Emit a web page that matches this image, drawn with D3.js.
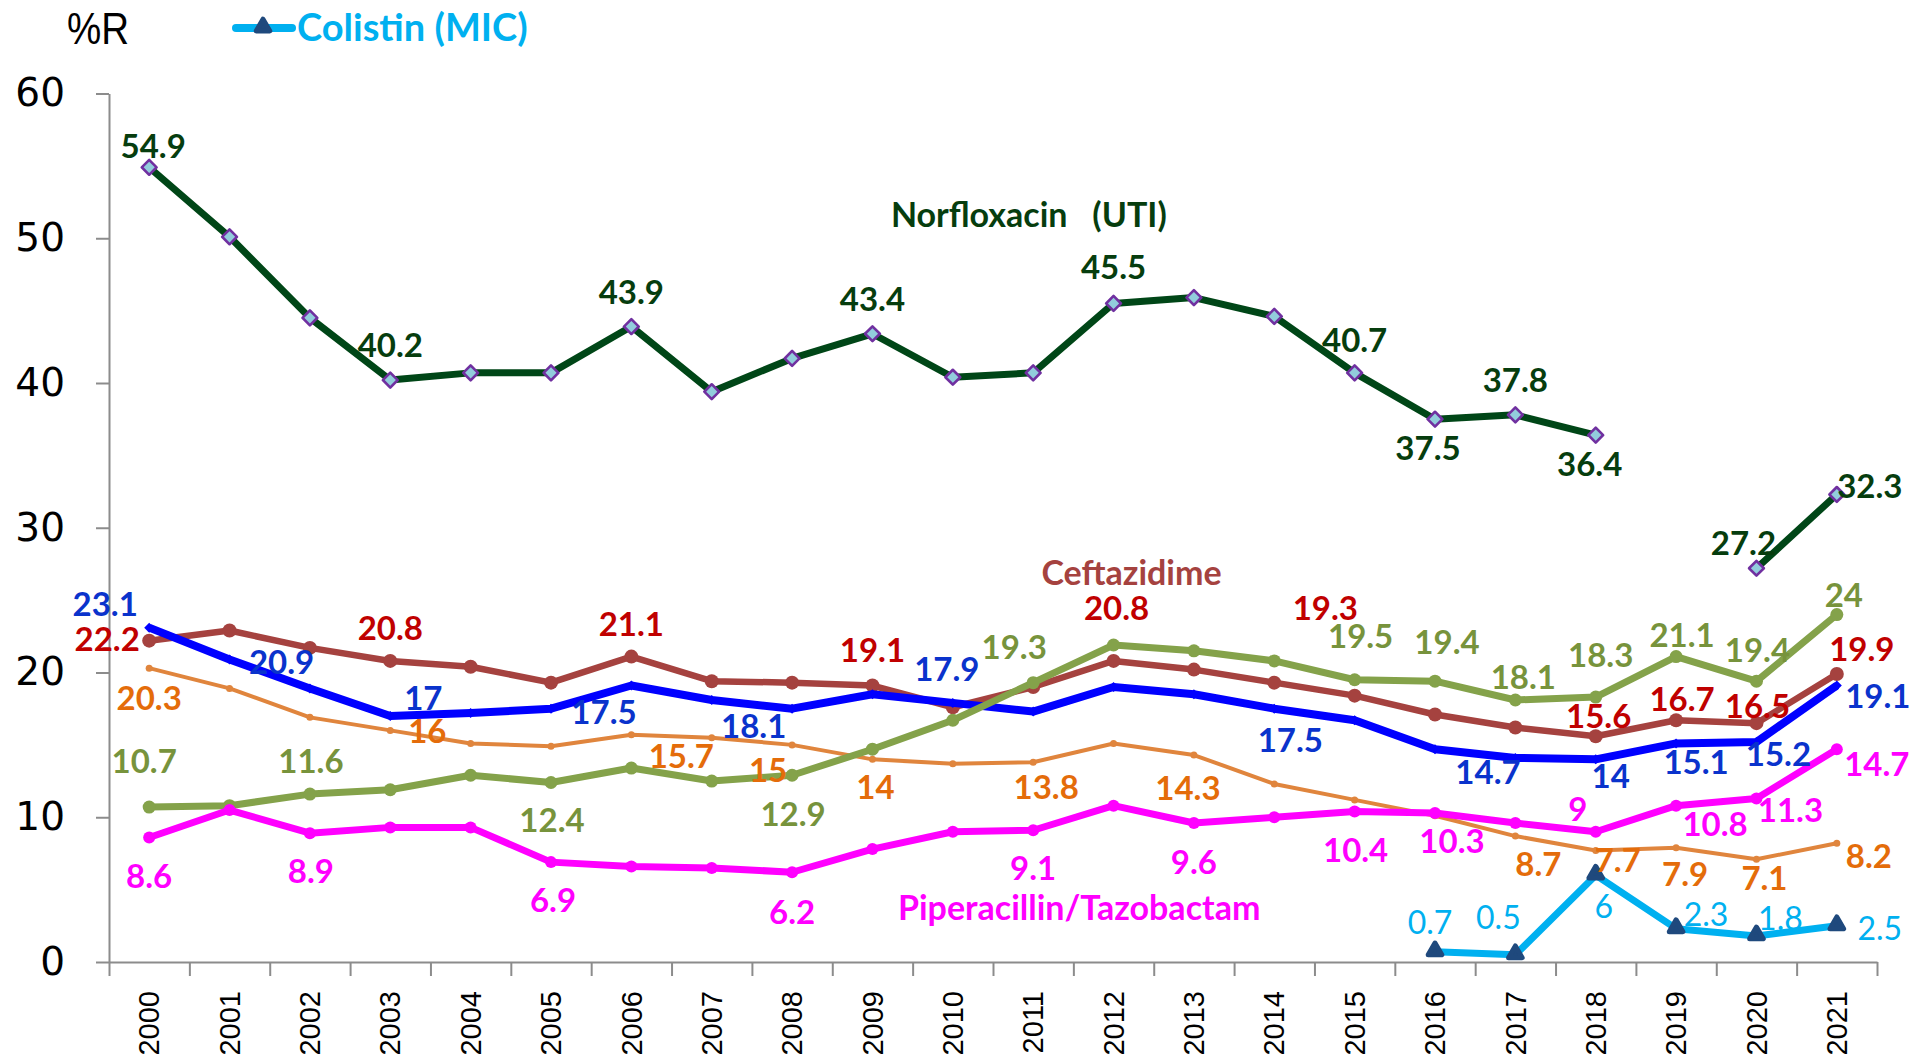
<!DOCTYPE html>
<html>
<head>
<meta charset="utf-8">
<script src="https://cdn.jsdelivr.net/npm/d3@7"></script>
<style>
    body { margin: 0; background: #ffffff; }
    .val { font-family: Lato, "Open Sans", sans-serif; font-weight: bold; font-size: 33px; }
</style>
</head>
<body>
<div id="chart"></div>
<script>
// Data
var years = ["2000", "2001", "2002", "2003", "2004", "2005", "2006", "2007", "2008", "2009", "2010",
    "2011", "2012", "2013", "2014", "2015", "2016", "2017", "2018", "2019", "2020", "2021"];

var norfloxacin = [54.9, 50.1, 44.5, 40.2, 40.7, 40.7, 43.9, 39.4, 41.7, 43.4, 40.4,
    40.7, 45.5, 45.9, 44.6, 40.7, 37.5, 37.8, 36.4, null, 27.2, 32.3];
var ceftazidime = [22.2, 22.9, 21.7, 20.8, 20.4, 19.3, 21.1, 19.4, 19.3, 19.1, 17.6,
    19.0, 20.8, 20.2, 19.3, 18.4, 17.1, 16.2, 15.6, 16.7, 16.5, 19.9];
var blueValues = [23.1, 20.9, 18.9, 17, 17.2, 17.5, 19.1, 18.1, 17.5, 18.5, 17.9,
    17.3, 19.0, 18.5, 17.5, 16.7, 14.7, 14.1, 14, 15.1, 15.2, 19.1];
var orangeValues = [20.3, 18.9, 16.9, 16, 15.1, 14.9, 15.7, 15.5, 15, 14, 13.7,
    13.8, 15.1, 14.3, 12.3, 11.2, 10.1, 8.7, 7.7, 7.9, 7.1, 8.2];
var oliveValues = [10.7, 10.8, 11.6, 11.9, 12.9, 12.4, 13.4, 12.5, 12.9, 14.7, 16.7,
    19.3, 21.9, 21.5, 20.8, 19.5, 19.4, 18.1, 18.3, 21.1, 19.4, 24];
var piperacillin = [8.6, 10.5, 8.9, 9.3, 9.3, 6.9, 6.6, 6.5, 6.2, 7.8, 9.0,
    9.1, 10.8, 9.6, 10.0, 10.4, 10.3, 9.6, 9, 10.8, 11.3, 14.7];
var colistin = [null, null, null, null, null, null, null, null, null, null, null,
    null, null, null, null, null, 0.7, 0.5, 6, 2.3, 1.8, 2.5];

var yTicks = [0, 10, 20, 30, 40, 50, 60];

// Which points carry a value label: [index, dx, dy]
var norLabels = [[0, 4, -21], [3, 0, -35], [6, 0, -34], [9, 0, -35], [12, 0, -36], [15, 0, -33],
    [16, -7, 29], [17, 0, -35], [18, -6, 29], [20, -13, -25], [21, 33, -8]];
var cefLabels = [[0, -42, -2], [3, 0, -33], [6, 0, -32], [9, 0, -35], [12, 3, -53], [14, 51, -75],
    [18, 3, -20], [19, 6, -21], [20, 1, -17], [21, 25, -25]];
var blueLabels = [[0, -44, -24], [1, 52, 3], [3, 33, -18], [5, 53, 3], [7, 42, 26], [10, -6, -34],
    [14, 16, 31], [16, 53, 23], [18, 15, 17], [19, 20, 19], [20, 22, 12], [21, 41, 11]];
var orangeLabels = [[0, 0, 30], [3, 37, 1], [6, 50, 21], [8, -24, 25], [9, 3, 28], [11, 13, 25],
    [13, -6, 33], [17, 23, 28], [18, 22, 10], [19, 9, 26], [20, 8, 19], [21, 32, 13]];
var oliveLabels = [[0, -5, -46], [2, 1, -33], [5, 1, 38], [8, 1, 39], [11, -19, -36], [15, 6, -44],
    [16, 12, -39], [17, 8, -23], [18, 5, -42], [19, 6, -21], [20, 1, -31], [21, 7, -19]];
var pipLabels = [[0, 0, 39], [2, 1, 38], [5, 2, 38], [8, 0, 40], [11, 0, 38], [13, 0, 39],
    [15, 1, 39], [16, 17, 28], [18, -18, -23], [19, 39, 18], [20, 34, 12], [21, 40, 15]];
var colLabels = [[16, -5, -29], [17, -17, -37], [18, 8, 31], [19, 30, -14], [20, 24, -17], [21, 43, 3]];

var width = 1917, height = 1055;

var svg = d3.select("#chart").append("svg")
    .attr("width", width)
    .attr("height", height);

var x = d3.scaleBand().domain(years).range([109, 1877]);
var y = d3.scaleLinear().domain([0, 60]).range([962, 93.5]);

function cx(i) {
    return x(years[i]) + x.bandwidth() / 2;
}

var axisColor = "#8c8c8c";

// Y axis
var yAxis = svg.append("g")
    .attr("transform", "translate(" + x.range()[0] + ",0)")
    .call(d3.axisLeft(y).tickValues(yTicks).tickSize(13).tickSizeOuter(0).tickPadding(31));
yAxis.select(".domain").attr("stroke", axisColor).attr("stroke-width", 2);
yAxis.selectAll(".tick line").attr("stroke", axisColor).attr("stroke-width", 2);
yAxis.selectAll(".tick text")
    .attr("font-family", "'DejaVu Sans', sans-serif")
    .attr("font-size", 39)
    .attr("fill", "#000");

// X axis: tick marks sit between the years
var xEdge = d3.scaleLinear().domain([0, years.length]).range(x.range());
var xAxis = svg.append("g")
    .attr("transform", "translate(0," + y(0) + ")")
    .call(d3.axisBottom(xEdge).tickValues(d3.range(years.length + 1))
        .tickSize(14).tickSizeOuter(0).tickFormat(""));
xAxis.select(".domain").attr("stroke", axisColor).attr("stroke-width", 2);
xAxis.selectAll(".tick line").attr("stroke", axisColor).attr("stroke-width", 2);

var xLabels = svg.append("g")
    .attr("transform", "translate(0," + y(0) + ")")
    .call(d3.axisBottom(x).tickSize(0).tickSizeOuter(0));
xLabels.select(".domain").remove();
xLabels.selectAll(".tick text")
    .attr("transform", "rotate(-90)")
    .attr("text-anchor", "end")
    .attr("x", -29)
    .attr("y", 0)
    .attr("dy", "0.35em")
    .attr("font-family", "'Liberation Sans', Arial, sans-serif")
    .attr("font-size", 29)
    .attr("fill", "#000");

// "%R" axis title
svg.append("text")
    .attr("x", 67)
    .attr("y", 44)
    .attr("font-family", "'Liberation Sans', Arial, sans-serif")
    .attr("font-size", 45)
    .attr("textLength", 62)
    .attr("lengthAdjust", "spacingAndGlyphs")
    .attr("fill", "#000")
    .text("%R");

var series = [
    {values: orangeValues, color: "#e0853d", width: 4, marker: "circle", r: 3.5, text: "#e46c0a", labels: orangeLabels},
    {values: ceftazidime, color: "#a5423f", width: 6.5, marker: "circle", r: 7, text: "#c00000", labels: cefLabels},
    {values: blueValues, color: "#0000ff", width: 8, marker: "diamond", r: 4, text: "#0a33cc", labels: blueLabels},
    {values: oliveValues, color: "#84a24a", width: 7, marker: "circle", r: 6.5, text: "#77933c", labels: oliveLabels},
    {values: piperacillin, color: "#ff00ff", width: 7, marker: "circle", r: 6, text: "#ff00ff", labels: pipLabels},
    {values: norfloxacin, color: "#004617", width: 7, marker: "norflox", r: 7, text: "#063d0e", labels: norLabels},
    {values: colistin, color: "#00b0f0", width: 7, marker: "bullet", r: 6, text: "#00b0f0", labels: colLabels, light: true}
];

var line = d3.line()
    .defined(function (d) { return d != null; })
    .x(function (d, i) { return cx(i); })
    .y(function (d) { return y(d); });

// Colistin marker: a rounded, bullet-like triangle
function bullet(g) {
    g.attr("d", d3.symbol(d3.symbolTriangle, 80))
        .attr("fill", "#1f497d")
        .attr("stroke", "#1f497d")
        .attr("stroke-width", 5)
        .attr("stroke-linejoin", "round");
}

function drawMarkers(g, s) {
    var pts = s.values.map(function (v, i) { return {v: v, i: i}; })
        .filter(function (d) { return d.v != null; });
    var sel = g.selectAll(".m").data(pts);
    if (s.marker === "circle") {
        sel.join("circle")
            .attr("cx", function (d) { return cx(d.i); })
            .attr("cy", function (d) { return y(d.v); })
            .attr("r", s.r)
            .attr("fill", s.color);
    } else if (s.marker === "diamond") {
        sel.join("path")
            .attr("transform", function (d) { return "translate(" + cx(d.i) + "," + y(d.v) + ") rotate(45)"; })
            .attr("d", d3.symbol(d3.symbolSquare, 50))
            .attr("fill", s.color);
    } else if (s.marker === "norflox") {
        sel.join("path")
            .attr("transform", function (d) { return "translate(" + cx(d.i) + "," + y(d.v) + ") rotate(45)"; })
            .attr("d", d3.symbol(d3.symbolSquare, 110))
            .attr("fill", "#92cddc")
            .attr("stroke", "#7030a0")
            .attr("stroke-width", 2.6)
            .attr("stroke-linejoin", "round");
    } else {
        sel.join("path")
            .attr("transform", function (d) { return "translate(" + cx(d.i) + "," + (y(d.v) - 1) + ")"; })
            .call(bullet);
    }
}

// Lines and markers
series.forEach(function (s) {
    var g = svg.append("g");
    g.append("path")
        .datum(s.values)
        .attr("fill", "none")
        .attr("stroke", s.color)
        .attr("stroke-width", s.width)
        .attr("stroke-linejoin", "round")
        .attr("d", line);
    drawMarkers(g, s);
});

// Value labels
series.forEach(function (s) {
    svg.append("g")
        .selectAll("text")
        .data(s.labels)
        .join("text")
        .attr("class", "val")
        .attr("x", function (d) { return cx(d[0]) + d[1]; })
        .attr("y", function (d) { return y(s.values[d[0]]) + d[2]; })
        .attr("dy", "0.36em")
        .attr("text-anchor", "middle")
        .attr("fill", s.text)
        .style("font-weight", s.light ? "normal" : "bold")
        .style("font-size", s.light ? "32px" : "33px")
        .text(function (d) { return s.values[d[0]]; });
});

// Series names
svg.append("text")
    .attr("class", "val")
    .attr("x", cx(10) + 76)
    .attr("y", y(51.6))
    .attr("dy", "0.36em")
    .attr("text-anchor", "middle")
    .attr("fill", "#063d0e")
    .style("white-space", "pre")
    .style("font-size", "34px")
    .text("Norfloxacin   (UTI)");

svg.append("text")
    .attr("class", "val")
    .attr("x", cx(12) + 18)
    .attr("y", y(26.9))
    .attr("dy", "0.36em")
    .attr("text-anchor", "middle")
    .attr("fill", "#a5423f")
    .style("font-size", "34px")
    .text("Ceftazidime");

svg.append("text")
    .attr("class", "val")
    .attr("x", cx(11) + 46)
    .attr("y", y(3.75))
    .attr("dy", "0.36em")
    .attr("text-anchor", "middle")
    .attr("fill", "#ff00ff")
    .style("font-size", "34px")
    .text("Piperacillin/Tazobactam");

// Legend for Colistin
var legend = svg.append("g").attr("transform", "translate(236,28)");
legend.append("line")
    .attr("x1", 0).attr("x2", 56)
    .attr("stroke", "#00b0f0")
    .attr("stroke-width", 8)
    .attr("stroke-linecap", "round");
legend.append("path")
    .attr("transform", "translate(27,-1)")
    .call(bullet);
legend.append("text")
    .attr("class", "val")
    .attr("x", 61)
    .attr("y", 13)
    .attr("fill", "#00b0f0")
    .style("font-size", "38px")
    .text("Colistin (MIC)");
</script>
</body>
</html>
